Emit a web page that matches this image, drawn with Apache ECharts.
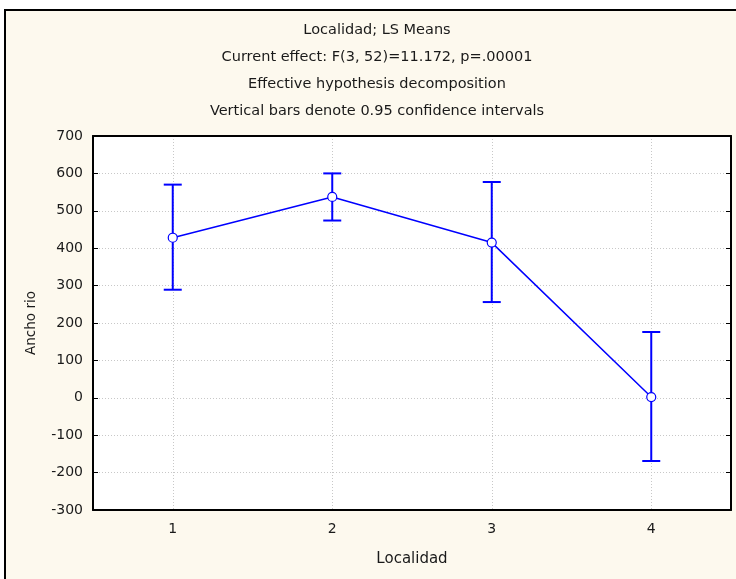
<!DOCTYPE html>
<html>
<head>
<meta charset="utf-8">
<script src="https://cdn.jsdelivr.net/npm/echarts@6/dist/echarts.min.js"></script>
<style>
  html, body { margin: 0; padding: 0; background: #fff; }
  #frame {
    position: absolute; left: 4px; top: 9px; width: 740px; height: 580px;
    border: 2px solid #000; background: #fdf9ee;
  }
  #chart { position: absolute; left: 0; top: 0; width: 736px; height: 579px; }
</style>
</head>
<body>
<div id="frame"></div>
<div id="chart"></div>
<script>
// datos
const localidades = ['1', '2', '3', '4'];
const medias = [428, 537, 415, 2];
const limInf = [289, 474, 256, -169];
const limSup = [570, 600, 577, 176];
const yTicks = { min: -300, max: 700, interval: 100 };

const titleLines = [
  'Localidad; LS Means',
  'Current effect: F(3, 52)=11.172, p=.00001',
  'Effective hypothesis decomposition',
  'Vertical bars denote 0.95 confidence intervals'
];

const azul = '#0000ff';
const fuente = 'DejaVu Sans, Liberation Sans, sans-serif';
const txt = '#1a1a1a';

const chart = echarts.init(document.getElementById('chart'));

const errData = localidades.map((c, i) => [i, limInf[i], limSup[i]]);

const option = {
  backgroundColor: 'transparent',
  animation: false,
  title: {
    text: titleLines.join('\n'),
    left: 377,
    textAlign: 'center',
    top: 17,
    padding: 0,
    textStyle: {
      fontFamily: fuente, fontSize: 14.5, fontWeight: 'normal',
      color: txt, lineHeight: 27
    }
  },
  grid: {
    left: 93, right: 5, top: 136, bottom: 69,
    show: true, backgroundColor: '#ffffff', borderWidth: 0
  },
  xAxis: [
    {
      type: 'category',
      data: localidades,
      boundaryGap: true,
      position: 'bottom',
      name: 'Localidad',
      nameLocation: 'middle',
      nameGap: 42,
      nameTextStyle: { fontFamily: fuente, fontSize: 15, color: txt },
      axisLine: { onZero: false, lineStyle: { color: '#000', width: 2 } },
      axisTick: { inside: true, length: 5, alignWithLabel: true, lineStyle: { color: '#000' } },
      axisLabel: { fontFamily: fuente, fontSize: 14, color: txt, margin: 12 },
      splitLine: { show: true, alignWithLabel: true, lineStyle: { color: '#c8c8c8', type: [1, 2] } }
    },
    {
      type: 'category',
      data: localidades,
      boundaryGap: true,
      position: 'top',
      axisLine: { onZero: false, lineStyle: { color: '#000', width: 2 } },
      axisTick: { inside: true, length: 5, alignWithLabel: true, lineStyle: { color: '#000' } },
      axisLabel: { show: false },
      splitLine: { show: false }
    }
  ],
  yAxis: [
    {
      type: 'value',
      min: yTicks.min, max: yTicks.max, interval: yTicks.interval,
      position: 'left',
      name: 'Ancho rio',
      nameLocation: 'middle',
      nameGap: 55,
      nameTextStyle: { fontFamily: fuente, fontSize: 13.5, color: txt },
      axisLine: { show: true, onZero: false, lineStyle: { color: '#000', width: 2 } },
      axisTick: { show: true, inside: true, length: 5, lineStyle: { color: '#000' } },
      axisLabel: { fontFamily: fuente, fontSize: 14, color: txt, margin: 10 },
      splitLine: { show: true, lineStyle: { color: '#c8c8c8', type: [1, 2] } }
    },
    {
      type: 'value',
      min: yTicks.min, max: yTicks.max, interval: yTicks.interval,
      position: 'right',
      axisLine: { show: true, onZero: false, lineStyle: { color: '#000', width: 2 } },
      axisTick: { show: true, inside: true, length: 5, lineStyle: { color: '#000' } },
      axisLabel: { show: false },
      splitLine: { show: false }
    }
  ],
  series: [
    {
      // barras de error (IC 95%)
      type: 'custom',
      xAxisIndex: 0, yAxisIndex: 0,
      data: errData,
      z: 2,
      renderItem: function (params, api) {
        const x = api.value(0);
        const lo = api.coord([x, api.value(1)]);
        const hi = api.coord([x, api.value(2)]);
        const w = 9;
        const st = { stroke: azul, lineWidth: 2 };
        return {
          type: 'group',
          children: [
            { type: 'line', shape: { x1: lo[0], y1: lo[1], x2: hi[0], y2: hi[1] }, style: st },
            { type: 'line', shape: { x1: lo[0] - w, y1: lo[1], x2: lo[0] + w, y2: lo[1] }, style: st },
            { type: 'line', shape: { x1: hi[0] - w, y1: hi[1], x2: hi[0] + w, y2: hi[1] }, style: st }
          ]
        };
      }
    },
    {
      type: 'line',
      xAxisIndex: 0, yAxisIndex: 0,
      data: medias,
      z: 3,
      symbol: 'circle',
      symbolSize: 9,
      lineStyle: { color: azul, width: 1.5 },
      itemStyle: { color: '#fff', borderColor: azul, borderWidth: 1.2 }
    }
  ]
};

chart.setOption(option);
</script>
</body>
</html>
